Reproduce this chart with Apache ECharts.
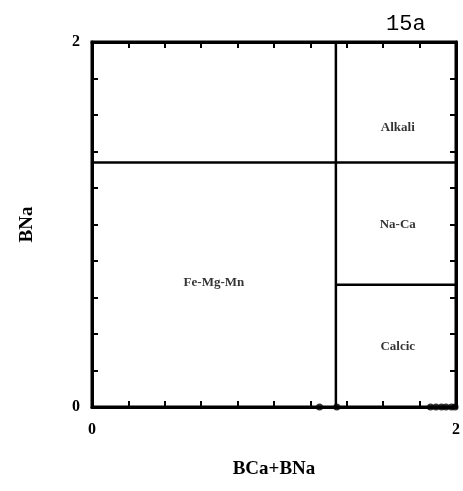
<!DOCTYPE html>
<html><head><meta charset="utf-8">
<script src="https://cdn.jsdelivr.net/npm/echarts@6/dist/echarts.min.js"></script>
<style>html,body{margin:0;padding:0;background:#fff}#c{width:463px;height:491px}</style>
</head><body><div id="c"></div>
<script>
// data
var pointsX = [1.25, 1.345, 1.86, 1.89, 1.92, 1.945, 1.975, 1.995];
var pointsY = [0, 0, 0, 0, 0, 0, 0, 0];
var boundaryUpper = [[0, 1.34], [2, 1.34]];
var boundaryVertical = [[1.34, 0], [1.34, 2]];
var boundaryLower = [[1.34, 0.67], [2, 0.67]];
var regionNames = ['Alkali', 'Na-Ca', 'Fe-Mg-Mn', 'Calcic'];
var regionX = [1.68, 1.68, 0.67, 1.68];
var regionY = [1.53, 1.0, 0.68, 0.33];
var tickLabels = ['0', '2'];

var serif = '"Liberation Serif","DejaVu Serif",serif';
var chart = echarts.init(document.getElementById('c'));
function lineSeries(d){
  return {type:'line', data:d, symbol:'none', lineStyle:{color:'#000', width:2.5}, silent:true, z:3};
}
var tickCommon = {show:true, inside:true, length:6, lineStyle:{color:'#000', width:2}};
chart.setOption({
  animation:false,
  title:{text:'15a', left:381, top:8, textStyle:{fontFamily:'"Liberation Mono","DejaVu Sans Mono",monospace', fontWeight:'normal', fontSize:22, color:'#000'}},
  grid:{left:92, right:4, top:42, bottom:84, show:true, borderColor:'#000', borderWidth:3},
  xAxis:[{
    type:'value', min:0, max:2, interval:0.2, position:'bottom',
    axisLine:{show:true, onZero:false, lineStyle:{color:'#000', width:3}},
    axisTick:tickCommon, splitLine:{show:false},
    axisLabel:{margin:15, fontFamily:serif, fontWeight:'bold', fontSize:16, color:'#000',
      formatter:function(v){ return (Math.abs(v)<1e-9) ? tickLabels[0] : (Math.abs(v-2)<1e-9 ? tickLabels[1] : ''); }},
    name:'BCa+BNa', nameLocation:'middle', nameGap:53,
    nameTextStyle:{fontFamily:serif, fontWeight:'bold', fontSize:19, color:'#000'}
  },{
    type:'value', min:0, max:2, interval:0.2, position:'top',
    axisLine:{show:true, onZero:false, lineStyle:{color:'#000', width:3}},
    axisTick:tickCommon, axisLabel:{show:false}, splitLine:{show:false}
  }],
  yAxis:[{
    type:'value', min:0, max:2, interval:0.2, position:'left',
    axisLine:{show:true, onZero:false, lineStyle:{color:'#000', width:3}},
    axisTick:tickCommon, splitLine:{show:false},
    axisLabel:{margin:12, fontFamily:serif, fontWeight:'bold', fontSize:16, color:'#000',
      formatter:function(v){ return (Math.abs(v)<1e-9) ? tickLabels[0] : (Math.abs(v-2)<1e-9 ? tickLabels[1] : ''); }},
    name:'BNa', nameLocation:'middle', nameGap:55, nameRotate:90,
    nameTextStyle:{fontFamily:serif, fontWeight:'bold', fontSize:19, color:'#000'}
  },{
    type:'value', min:0, max:2, interval:0.2, position:'right',
    axisLine:{show:true, onZero:false, lineStyle:{color:'#000', width:3}},
    axisTick:tickCommon, axisLabel:{show:false}, splitLine:{show:false}
  }],
  series:[
    lineSeries(boundaryUpper),
    lineSeries(boundaryVertical),
    lineSeries(boundaryLower),
    {type:'scatter', symbol:'circle', symbolSize:7, itemStyle:{color:'#000'}, z:5,
     data: pointsX.map(function(x,i){return [x, pointsY[i]];})},
    {type:'scatter', symbolSize:0, silent:true,
     data: regionNames.map(function(n,i){return {value:[regionX[i], regionY[i]], name:n};}),
     label:{show:true, position:'inside', formatter:'{b}', fontFamily:serif, fontWeight:'bold', fontSize:13, color:'#000'}}
  ]
});
</script></body></html>
